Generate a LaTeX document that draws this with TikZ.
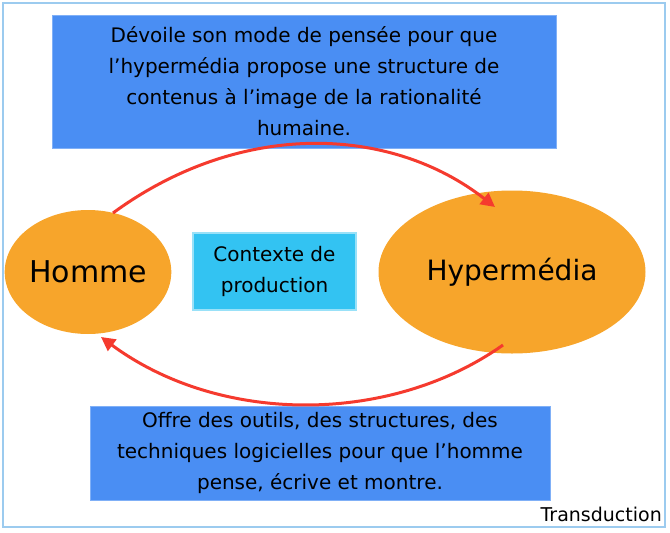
\documentclass[tikz,border=0pt]{standalone}
\usepackage{fontspec}
\setmainfont{DejaVu Sans}
\usetikzlibrary{arrows.meta,shapes.geometric}
\definecolor{boxblue}{HTML}{4A8EF3}
\definecolor{ora}{HTML}{F7A52B}
\definecolor{cyanb}{HTML}{33C3F2}
\definecolor{frame}{HTML}{9CCBEF}
\definecolor{arr}{HTML}{F53A2E}
\tikzset{
 txtbox/.style={fill=boxblue,draw=boxblue!70!white,line width=1pt,align=center,font=\fontsize{20}{31}\selectfont,inner sep=0pt},
 ell/.style={ellipse,fill=ora,inner sep=0pt},
 conn/.style={draw=arr,line width=3pt,-{Triangle[length=14pt,width=14pt]}}
}
\begin{document}
\begin{tikzpicture}[x=1pt,y=-1pt]
\useasboundingbox (0,0) rectangle (670,533);
\draw[frame,line width=1.5pt] (3,3) rectangle (665,527);
\node[txtbox,minimum width=504pt,minimum height=133pt] (top) at (304,81.5) {Dévoile son mode de pensée pour que\\l’hypermédia propose une structure de\\contenus à l’image de la rationalité\\humaine.};
\node[txtbox,minimum width=460pt,minimum height=94pt] (bot) at (320,453) {Offre des outils, des structures, des\\techniques logicielles pour que l’homme\\pense, écrive et montre.};
\node[ell,minimum width=150pt,minimum height=124pt,font=\fontsize{30}{34}\selectfont] (homme) at (88,272) {Homme};
\node[ell,minimum width=267pt,minimum height=163pt,font=\fontsize{28}{32}\selectfont] (hyper) at (512,272) {Hypermédia};
\node[fill=cyanb,draw=cyanb!50!white,line width=2pt,minimum width=163pt,minimum height=77pt,align=center,font=\fontsize{20}{31}\selectfont,inner sep=0pt] (ctx) at (274.5,271.5) {Contexte de\\production};
\coordinate (a1) at (113,213);
\coordinate (a2) at (495,207);
\coordinate (b1) at (503,345);
\coordinate (b2) at (101,337);
\draw[conn] (a1) .. controls (240,120) and (390,125) .. (a2);
\draw[conn] (b1) .. controls (390,425) and (220,425) .. (b2);
\node[anchor=south east,inner sep=0pt,font=\fontsize{19}{22}\selectfont] (tr) at (662,522) {Transduction};
\end{tikzpicture}
\end{document}
